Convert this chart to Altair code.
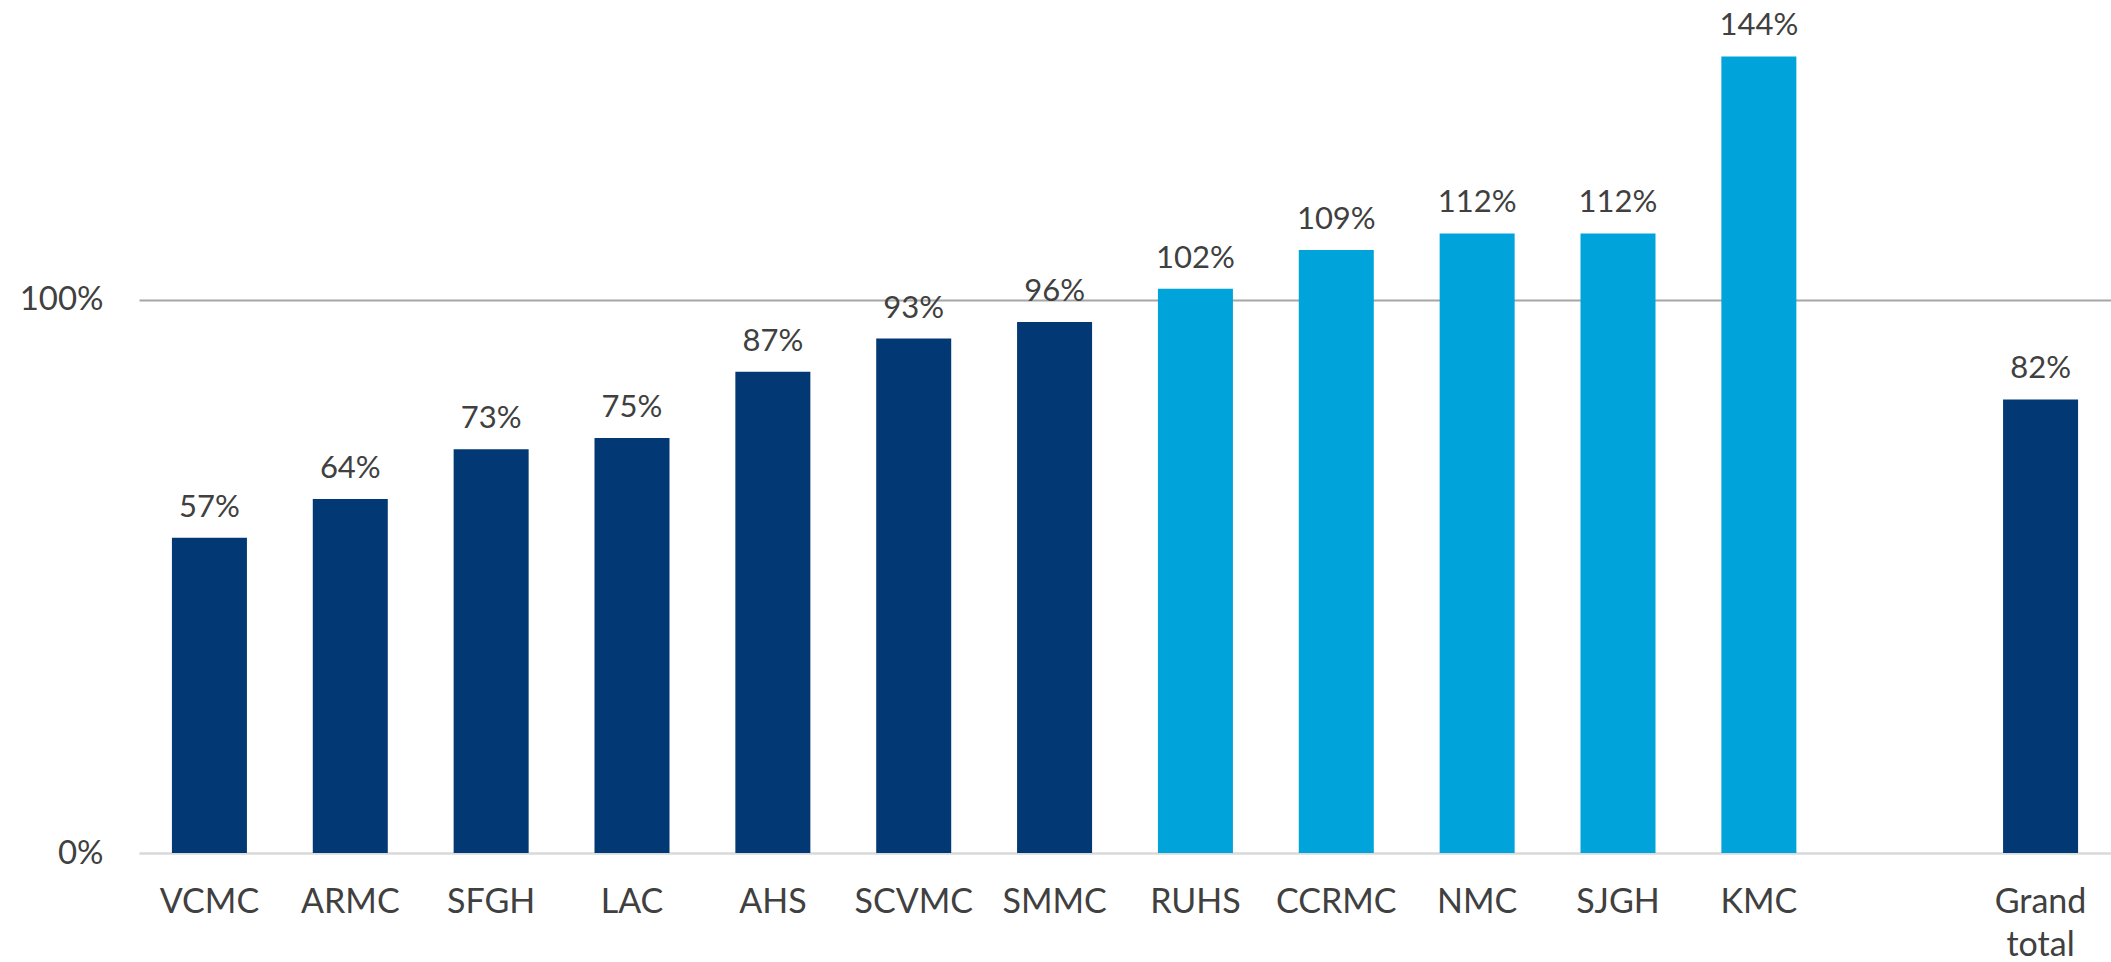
import altair as alt
import pandas as pd

categories = ["VCMC", "ARMC", "SFGH", "LAC", "AHS", "SCVMC", "SMMC",
              "RUHS", "CCRMC", "NMC", "SJGH", "KMC", "Grand total"]
values = [0.57, 0.64, 0.73, 0.75, 0.87, 0.93, 0.96,
          1.02, 1.09, 1.12, 1.12, 1.44, 0.82]
groups = ["below", "below", "below", "below", "below", "below", "below",
          "above", "above", "above", "above", "above", "below"]
domain_order = categories[:12] + [" "] + categories[12:]
group_names = ["below", "above"]
group_colors = ["#023873", "#00A3DA"]
y_ticks = [0, 1]

df = pd.DataFrame({"cat": categories, "val": values, "grp": groups})

FONT = "Lato"
TXT = "#404040"

x = alt.X("cat:N", sort=domain_order, scale=alt.Scale(domain=domain_order, paddingInner=0, paddingOuter=0),
          axis=alt.Axis(title=None, labelAngle=0, labelFont=FONT, labelFontSize=34, labelColor=TXT,
                        labelPadding=32, ticks=False, domain=True, domainColor="#D9D9D9", domainWidth=2,
                        labelLineHeight=43, grid=False,
                        labelExpr="datum.label == 'Grand total' ? ['Grand', 'total'] : datum.label"))
y = alt.Y("val:Q", scale=alt.Scale(domain=[0, 1.542], nice=False, zero=True),
          axis=alt.Axis(title=None, values=y_ticks, format=".0%", labelFont=FONT, labelFontSize=33,
                        labelColor=TXT, labelPadding=36, ticks=False, domain=False,
                        grid=True, gridWidth=2,
                        gridColor={"condition": {"test": "datum.value == 0", "value": "#D9D9D9"},
                                   "value": "#A6A6A6"}))

base = alt.Chart(df).encode(x=x, y=y)

bars = base.mark_bar(size=75).encode(
    color=alt.Color("grp:N", scale=alt.Scale(domain=group_names, range=group_colors), legend=None),
)
labels = base.mark_text(baseline="bottom", dy=-14, font=FONT, fontSize=31, color=TXT).encode(
    text=alt.Text("val:Q", format=".0%")
)

chart = (bars + labels).properties(
    width=1972, height=853, autosize="none", background="white",
    padding={"left": 139, "top": 0, "right": 0, "bottom": 109},
).configure_view(strokeWidth=0, stroke="transparent")

chart.save("out.html", embed_options={"renderer": "svg", "actions": False})
